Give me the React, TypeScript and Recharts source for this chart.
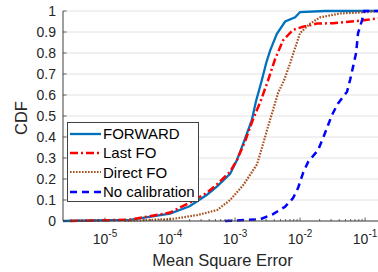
import React from 'react';
import { LineChart, Line, XAxis, YAxis, CartesianGrid, Legend, Label } from 'recharts';

// ---------- data ----------
const forwardX = [2.26e-6, 2.4e-5, 1.0e-4, 2.0e-4, 3.7e-4, 5.3e-4, 8.4e-4, 1.07e-3, 1.38e-3, 1.81e-3, 2.1e-3, 2.58e-3, 3.0e-3, 3.45e-3, 4.38e-3, 5.9e-3, 8.4e-3, 0.01, 0.024, 0.158];
const forwardY = [0, 0.005, 0.035, 0.07, 0.125, 0.165, 0.225, 0.29, 0.38, 0.48, 0.57, 0.67, 0.75, 0.81, 0.89, 0.95, 0.97, 0.995, 1, 1];

const lastFoX = [2.9e-6, 2.4e-5, 1.0e-4, 2.0e-4, 3.7e-4, 5.3e-4, 8.4e-4, 1.07e-3, 1.43e-3, 1.87e-3, 2.51e-3, 3.22e-3, 4.12e-3, 5.47e-3, 7.8e-3, 0.0111, 0.0183, 0.0322, 0.0754, 0.158];
const lastFoY = [0, 0.006, 0.04, 0.087, 0.135, 0.175, 0.235, 0.29, 0.38, 0.48, 0.576, 0.67, 0.77, 0.86, 0.91, 0.925, 0.94, 0.942, 0.952, 0.965];

const directFoX = [2.0e-5, 1.11e-4, 2.6e-4, 5.3e-4, 8.4e-4, 1.33e-3, 2.18e-3, 2.6e-3, 3.22e-3, 4.59e-3, 5.67e-3, 7.02e-3, 8.09e-3, 0.01, 0.0143, 0.0203, 0.0412, 0.107, 0.158];
const directFoY = [0, 0.01, 0.028, 0.052, 0.1, 0.17, 0.27, 0.35, 0.45, 0.61, 0.67, 0.75, 0.81, 0.895, 0.94, 0.97, 0.988, 0.995, 1];

const noCalX = [7.0e-4, 2.42e-3, 3.84e-3, 5.88e-3, 7.8e-3, 9.31e-3, 0.0111, 0.0133, 0.0189, 0.0226, 0.027, 0.031, 0.0384, 0.0528, 0.0587, 0.0654, 0.0727, 0.078, 0.09, 0.0967, 0.158];
const noCalY = [0, 0.008, 0.033, 0.068, 0.109, 0.157, 0.228, 0.281, 0.338, 0.395, 0.457, 0.505, 0.56, 0.616, 0.671, 0.735, 0.8, 0.895, 0.957, 1, 1];

const seriesNames = ['FORWARD', 'Last FO', 'Direct FO', 'No calibration'];

const xDomain = [2.26e-6, 0.158];
const xMajorTicks = [1e-5, 1e-4, 1e-3, 1e-2, 1e-1];
const xTickExponents = ['-5', '-4', '-3', '-2', '-1'];
const minorMultipliers = [2, 3, 4, 5, 6, 7, 8, 9];
const minorDecades = [1e-6, 1e-5, 1e-4, 1e-3, 1e-2, 1e-1];

const yTicks = [0, 0.1, 0.2, 0.3, 0.4, 0.5, 0.6, 0.7, 0.8, 0.9, 1];
const yTickLabels = ['0', '0.1', '0.2', '0.3', '0.4', '0.5', '0.6', '0.7', '0.8', '0.9', '1'];

// ---------- derived ----------
const toPoints = (xs: number[], ys: number[]) => xs.map((x, i) => ({ x, y: ys[i] }));
const seriesData = [
  toPoints(forwardX, forwardY),
  toPoints(lastFoX, lastFoY),
  toPoints(directFoX, directFoY),
  toPoints(noCalX, noCalY),
];

const xMinorTicks: number[] = [];
minorDecades.forEach((d) =>
  minorMultipliers.forEach((m) => {
    const v = m * d;
    if (v >= xDomain[0] && v <= xDomain[1]) xMinorTicks.push(v);
  })
);
const allXTicks = [...xMajorTicks, ...xMinorTicks].sort((a, b) => a - b);

// ---------- styles ----------
const FONT = '"Liberation Sans", Arial, Helvetica, sans-serif';
const TEXT = '#262626';
const AXIS = '#404040';
const seriesStyles = [
  { color: '#0072BD', width: 2.3, dash: undefined as string | undefined },
  { color: '#FF0000', width: 2.5, dash: '8 3 2 3' },
  { color: '#A8501E', width: 2.2, dash: '1.6 1.4' },
  { color: '#0000FF', width: 2.5, dash: '7 5' },
];

const isMajor = (v: number) => xMajorTicks.findIndex((t) => Math.abs(t - v) / t < 1e-6);

const BottomTick = (props: any) => {
  const { x, y, payload } = props;
  const idx = isMajor(payload.value);
  return (
    <g>
      <line x1={x} x2={x} y1={y} y2={y - (idx >= 0 ? 3.5 : 2)} stroke={AXIS} strokeWidth={0.8} />
      {idx >= 0 && (
        <text x={x} y={y + 23} textAnchor="middle" fontSize={14} fill={TEXT} fontFamily={FONT}>
          10
          <tspan dy={-7} fontSize={10}>{xTickExponents[idx]}</tspan>
        </text>
      )}
    </g>
  );
};

const TopTick = (props: any) => {
  const { x, y, payload } = props;
  const idx = isMajor(payload.value);
  return <line x1={x} x2={x} y1={y} y2={y + (idx >= 0 ? 3.5 : 2)} stroke={AXIS} strokeWidth={0.8} />;
};

const LeftTick = (props: any) => {
  const { x, y, payload, index } = props;
  return (
    <g>
      <line x1={x} x2={x + 3.5} y1={y} y2={y} stroke={AXIS} strokeWidth={0.8} />
      <text x={x - 7} y={y} dy="0.36em" textAnchor="end" fontSize={14} fill={TEXT} fontFamily={FONT}>
        {yTickLabels[index] ?? String(payload.value)}
      </text>
    </g>
  );
};

const minorGen = ({ xAxis }: any) => {
  const s = xAxis?.scale;
  if (typeof s !== 'function') return [];
  return xMinorTicks.map((v) => s(v));
};
const majorGen = ({ xAxis }: any) => {
  const s = xAxis?.scale;
  if (typeof s !== 'function') return [];
  return xMajorTicks.map((v) => s(v));
};

const LegendContent = () => (
  <div
    style={{
      boxSizing: 'border-box',
      width: 132,
      height: 80,
      border: `1px solid ${AXIS}`,
      background: '#fff',
      paddingTop: 1,
      fontFamily: FONT,
    }}
  >
    {seriesNames.map((name, i) => (
      <div key={name} style={{ height: 19.3, display: 'flex', alignItems: 'center' }}>
        <svg width={34} height={10} style={{ display: 'block' }}>
          <line
            x1={2}
            x2={33}
            y1={5}
            y2={5}
            stroke={seriesStyles[i].color}
            strokeWidth={seriesStyles[i].width}
            strokeDasharray={seriesStyles[i].dash}
          />
        </svg>
        <span style={{ marginLeft: 1, fontSize: 15, color: '#000', lineHeight: 1, whiteSpace: 'nowrap' }}>{name}</span>
      </div>
    ))}
  </div>
);

export default function App() {
  return (
    <div style={{ position: 'absolute', left: 0, top: 0, width: 378, height: 272, background: '#fff' }}>
      <LineChart width={378} height={272} margin={{ top: 11, right: 0, bottom: 0, left: 0 }}>
        <CartesianGrid
          xAxisId="b"
          horizontal={false}
          stroke="#cdcdcd"
          strokeDasharray="1 2"
          verticalCoordinatesGenerator={minorGen}
        />
        <CartesianGrid xAxisId="b" stroke="#e2e2e2" strokeWidth={1} verticalCoordinatesGenerator={majorGen} />
        <XAxis
          xAxisId="b"
          dataKey="x"
          type="number"
          scale="log"
          domain={xDomain}
          allowDataOverflow
          ticks={allXTicks}
          interval={0}
          tick={<BottomTick />}
          tickLine={false}
          tickSize={0}
          tickMargin={0}
          height={51}
          stroke={AXIS}
        >
          <Label
            content={(p: any) => {
              const vb = p.viewBox || { x: 63, y: 221, width: 315, height: 51 };
              return (
                <text x={vb.x + vb.width / 2 + 2} y={266} textAnchor="middle" fontSize={16.5} fill={TEXT} fontFamily={FONT}>
                  Mean Square Error
                </text>
              );
            }}
          />
        </XAxis>
        <XAxis
          xAxisId="t"
          orientation="top"
          dataKey="x"
          type="number"
          scale="log"
          domain={xDomain}
          allowDataOverflow
          ticks={allXTicks}
          interval={0}
          tick={<TopTick />}
          tickLine={false}
          tickSize={0}
          tickMargin={0}
          height={0}
          stroke={AXIS}
        />
        <YAxis
          type="number"
          domain={[0, 1]}
          ticks={yTicks}
          interval={0}
          width={63}
          tick={<LeftTick />}
          tickLine={false}
          tickSize={0}
          tickMargin={0}
          stroke={AXIS}
        >
          <Label
            content={(p: any) => {
              const vb = p.viewBox || { x: 0, y: 11, width: 63, height: 210 };
              const cx = 21;
              const cy = vb.y + vb.height / 2 + 2;
              return (
                <text
                  x={cx}
                  y={cy}
                  textAnchor="middle"
                  dy="0.36em"
                  transform={`rotate(-90, ${cx}, ${cy})`}
                  fontSize={16.5}
                  fill={TEXT}
                  fontFamily={FONT}
                >
                  CDF
                </text>
              );
            }}
          />
        </YAxis>
        {seriesData.map((d, i) => (
          <Line
            key={seriesNames[i]}
            xAxisId="b"
            data={d}
            dataKey="y"
            name={seriesNames[i]}
            type="linear"
            dot={false}
            stroke={seriesStyles[i].color}
            strokeWidth={seriesStyles[i].width}
            strokeDasharray={seriesStyles[i].dash}
            isAnimationActive={false}
          />
        ))}
        <Legend
          layout="vertical"
          align="center"
          verticalAlign="middle"
          wrapperStyle={{ left: 67, top: 122, width: 132, height: 80 }}
          content={<LegendContent />}
        />
      </LineChart>
    </div>
  );
}
